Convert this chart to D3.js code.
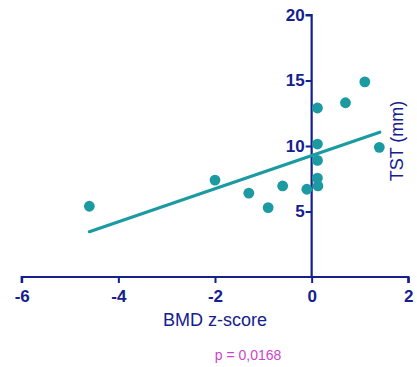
<!DOCTYPE html>
<html>
<head>
<meta charset="utf-8">
<script src="https://cdn.jsdelivr.net/npm/d3@7"></script>
<style>
  body { margin: 0; background: #fff; }
  svg { display: block; }
</style>
</head>
<body>
<svg id="chart" width="417" height="367"></svg>
<script>
// BMD z-score vs TST (mm)
var bmd = [-4.6, -2.0, -1.3, -0.9, -0.6, -0.1, 0.13, 0.12, 0.12, 0.12, 0.12, 0.7, 1.1, 1.4];
var tst = [5.4, 7.4, 6.4, 5.3, 6.95, 6.7, 6.95, 7.55, 8.9, 10.15, 12.9, 13.3, 14.9, 9.9];
var fitX = [-4.6, 1.41];
var fitY = [3.46, 11.05];
var xTicks = [-6, -4, -2, 0, 2];
var yTicks = [5, 10, 15, 20];

var navy = "#14208f";
var teal = "#1b9aa2";

var svg = d3.select("#chart");

var x = d3.scaleLinear().domain([-6, 2]).range([21.7, 408.3]);
var y = d3.scaleLinear().domain([0, 20]).range([277, 15]);

// x axis at y = 0
var xAxis = d3.axisBottom(x).tickValues(xTicks).tickSize(6).tickPadding(7).tickFormat(function (d) { return String(d); });
var gx = svg.append("g").attr("transform", "translate(0," + y(0) + ")").call(xAxis);

// y axis at x = 0
var yAxis = d3.axisLeft(y).tickValues(yTicks).tickSize(6).tickPadding(1).tickFormat(function (d) { return String(d); });
var gy = svg.append("g").attr("transform", "translate(" + x(0) + ",0)").call(yAxis);

[gx, gy].forEach(function (g) {
  g.select(".domain").attr("stroke", navy).attr("stroke-width", 2.2)
    .attr("d", g === gx ? "M" + x(-6) + ",6V0H" + x(2) + "V6" : "M-6," + y(20) + "H0V" + y(0));
  g.selectAll(".tick line").attr("stroke", navy).attr("stroke-width", 2);
  g.selectAll(".tick text")
    .attr("fill", navy)
    .style("font-family", "Liberation Sans, Arial, sans-serif")
    .style("font-weight", "bold")
    .style("font-size", "17px");
});
gx.selectAll(".tick text").attr("dy", "0.72em");

// regression line
svg.append("line")
  .attr("x1", x(fitX[0])).attr("y1", y(fitY[0]))
  .attr("x2", x(fitX[1])).attr("y2", y(fitY[1]))
  .attr("stroke", teal).attr("stroke-width", 3.2).attr("stroke-linecap", "round");

// points
svg.selectAll("circle.pt")
  .data(d3.zip(bmd, tst))
  .enter().append("circle")
  .attr("class", "pt")
  .attr("cx", function (d) { return x(d[0]); })
  .attr("cy", function (d) { return y(d[1]); })
  .attr("r", 5.4)
  .attr("fill", teal);

// axis titles
svg.append("text")
  .attr("x", 215).attr("y", 326)
  .attr("text-anchor", "middle")
  .attr("fill", navy)
  .style("font-family", "Liberation Sans, Arial, sans-serif")
  .style("font-size", "18px")
  .text("BMD z-score");

svg.append("text")
  .attr("transform", "translate(403,141) rotate(-90)")
  .attr("text-anchor", "middle")
  .attr("fill", navy)
  .style("font-family", "Liberation Sans, Arial, sans-serif")
  .style("font-size", "18px")
  .text("TST (mm)");

svg.append("text")
  .attr("x", 248).attr("y", 360)
  .attr("text-anchor", "middle")
  .attr("fill", "#cc44cc")
  .style("font-family", "Liberation Sans, Arial, sans-serif")
  .style("font-size", "14px")
  .text("p = 0,0168");
</script>
</body>
</html>
